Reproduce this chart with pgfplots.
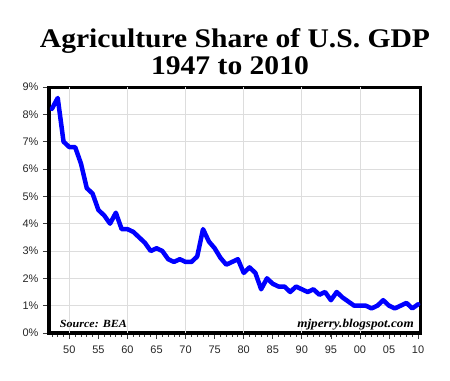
\documentclass[border=0pt]{standalone}
\usepackage{fontspec}
\setmainfont{Liberation Sans}
\newfontfamily\titlefont[FakeStretch=1.1]{Liberation Serif}
\usepackage{pgfplots}
\pgfplotsset{compat=1.18}
\definecolor{gridgray}{RGB}{221,221,221}
\definecolor{tickgray}{RGB}{60,60,60}
\definecolor{lineblue}{RGB}{0,0,255}
\begin{document}
\begin{tikzpicture}
\useasboundingbox (0,0) rectangle (450bp,381bp);
\node[anchor=base,font=\titlefont\bfseries\fontsize{27}{27}\selectfont] at (235bp,333.5bp) {Agriculture Share of U.S. GDP};
\node[anchor=base,font=\titlefont\bfseries\fontsize{27}{27}\selectfont] at (230bp,306bp) {1947 to 2010};
\begin{axis}[
  at={(49bp,48bp)},
  width=372bp, height=246bp, scale only axis,
  xmin=1946.5, xmax=2010.5,
  ymin=0, ymax=9,
  xtick={1950,1955,...,2010},
  xticklabels={50,55,60,65,70,75,80,85,90,95,00,05,10},
  minor xtick={1947,...,2010},
  ytick={0,1,...,9},
  yticklabels={0\%,1\%,2\%,3\%,4\%,5\%,6\%,7\%,8\%,9\%},
  tick align=outside,
  xtick pos=bottom, ytick pos=left,
  major tick length=6bp, minor tick length=3.5bp,
  every tick/.style={tickgray, line width=0.8pt},
  ymajorgrids,
  grid style={gridgray, line width=0.9pt},
  extra x ticks={1950,1960,1970,1980,1990,2000},
  extra x tick labels={},
  extra x tick style={grid=major, major tick length=0pt, xticklabels={}},
  axis line style={black, line width=3bp},
  ticklabel style={font=\fontsize{11}{11}\selectfont, text=black!85},
  yticklabel style={xshift=-1bp},
  xticklabel style={yshift=-3bp},
  /pgf/number format/assume math mode=true,
  clip=true,
]
\addplot[lineblue, line width=4.5bp, line join=round, line cap=round] coordinates {
(1947,8.2) (1948,8.6) (1949,7.0) (1950,6.8) (1951,6.8) (1952,6.2) (1953,5.3) (1954,5.1)
(1955,4.5) (1956,4.3) (1957,4.0) (1958,4.4) (1959,3.8) (1960,3.8) (1961,3.7) (1962,3.5)
(1963,3.3) (1964,3.0) (1965,3.1) (1966,3.0) (1967,2.7) (1968,2.6) (1969,2.7) (1970,2.6)
(1971,2.6) (1972,2.8) (1973,3.8) (1974,3.35) (1975,3.1) (1976,2.75) (1977,2.5) (1978,2.6)
(1979,2.7) (1980,2.2) (1981,2.4) (1982,2.2) (1983,1.6) (1984,2.0) (1985,1.8) (1986,1.7)
(1987,1.7) (1988,1.5) (1989,1.7) (1990,1.6) (1991,1.5) (1992,1.6) (1993,1.4) (1994,1.5)
(1995,1.2) (1996,1.5) (1997,1.3) (1998,1.15) (1999,1.0) (2000,1.0) (2001,1.0) (2002,0.9)
(2003,1.0) (2004,1.2) (2005,1.0) (2006,0.9) (2007,1.0) (2008,1.1) (2009,0.9) (2010,1.05)
};
\node[anchor=base west, font=\titlefont\bfseries\itshape\fontsize{11}{11}\selectfont] at (rel axis cs:0.02,0) [yshift=5bp] {Source: BEA};
\node[anchor=base east, font=\titlefont\bfseries\itshape\fontsize{12}{12}\selectfont] at (rel axis cs:0.99,0) [yshift=5bp] {mjperry.blogspot.com};
\end{axis}
\end{tikzpicture}
\end{document}
